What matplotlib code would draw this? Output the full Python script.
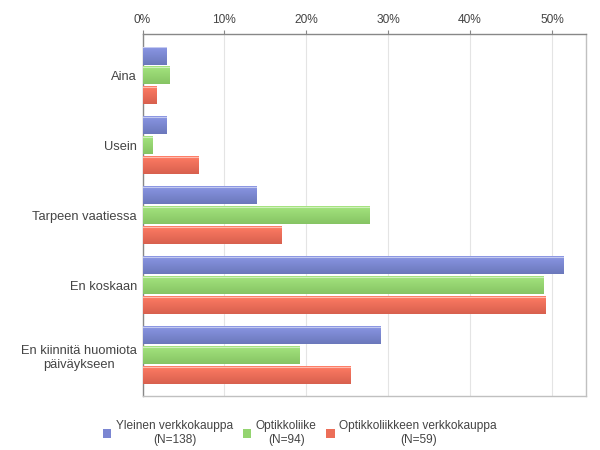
import numpy as np
import matplotlib
matplotlib.use("Agg")
import matplotlib.pyplot as plt
from matplotlib.colors import LinearSegmentedColormap
from matplotlib.patches import Patch

categories = ["Aina", "Usein", "Tarpeen vaatiessa", "En koskaan", "En kiinnitä huomiota\npäiväykseen"]
series_names = ["Yleinen verkkokauppa\n(N=138)", "Optikkoliike\n(N=94)", "Optikkoliikkeen verkkokauppa\n(N=59)"]
yleinen = [2.9, 2.9, 13.8, 51.4, 29.0]
optikkoliike = [3.2, 1.1, 27.7, 48.9, 19.1]
optikko_verkko = [1.7, 6.8, 16.9, 49.2, 25.4]
x_ticks = [0, 10, 20, 30, 40, 50]

series = [yleinen, optikkoliike, optikko_verkko]
colors_top = ["#8a96e4", "#a4e47e", "#ff7c64"]
colors_bot = ["#6b78bb", "#86c464", "#d8604e"]
colors_mid = ["#7b86d2", "#94d470", "#ec6e58"]

plt.rcParams['font.family'] = ['Liberation Sans', 'DejaVu Sans']

fig = plt.figure(figsize=(6, 4.5), dpi=100)
ax = fig.add_axes([142.5/600, 1-396/450, (585.5-142.5)/600, (396-34)/450])

n = len(categories)
step = 20/70
h = 18/70
xmax = 54.1
ylim_top = -0.593
ylim_bot = 4.58

for s, vals in enumerate(series):
    cmap = LinearSegmentedColormap.from_list("g", [colors_top[s], colors_bot[s]])
    grad = np.linspace(0, 1, 64).reshape(-1, 1)
    for i, v in enumerate(vals):
        yc = i + (s - 1) * step
        y0, y1 = yc - h/2, yc + h/2
        ax.imshow(grad, cmap=cmap, extent=[0, v, y1, y0], aspect='auto',
                  interpolation='bilinear', zorder=3)
        ax.plot([0, v], [y0 + 0.008, y0 + 0.008], color="#ffffff", alpha=0.5, lw=0.8, zorder=4)

ax.set_xlim(0, xmax)
ax.set_ylim(ylim_bot, ylim_top)

ax.xaxis.tick_top()
ax.set_xticks(x_ticks)
ax.set_xticklabels([f"{t}%" for t in x_ticks], fontsize=8.6, color="#444444")
ax.tick_params(axis='x', direction='out', length=3, color="#888888", pad=3)
ax.set_yticks(range(n))
ax.set_yticklabels(categories, fontsize=9.3, color="#444444")
ax.tick_params(axis='y', length=0, pad=4)
for lbl in ax.get_yticklabels():
    lbl.set_multialignment('center')

ax.grid(axis='x', color="#e4e4e4", lw=0.8, zorder=0)
ax.set_axisbelow(True)

ax.spines['top'].set_color("#888888")
ax.spines['left'].set_color("#888888")
ax.spines['right'].set_color("#c0c0c0")
ax.spines['bottom'].set_color("#c0c0c0")
for sp in ax.spines.values():
    sp.set_linewidth(1)

handles = [Patch(facecolor=colors_mid[i], edgecolor='none') for i in range(3)]
leg = fig.legend(handles, series_names, loc='center', bbox_to_anchor=(300/600, 1-433/450),
                 ncol=3, frameon=False, fontsize=8.6, handlelength=0.7, handleheight=0.7,
                 handletextpad=0.4, columnspacing=0.8)
for t in leg.get_texts():
    t.set_color("#444444")
    t.set_multialignment('center')

fig.savefig("out.png", dpi=100)
